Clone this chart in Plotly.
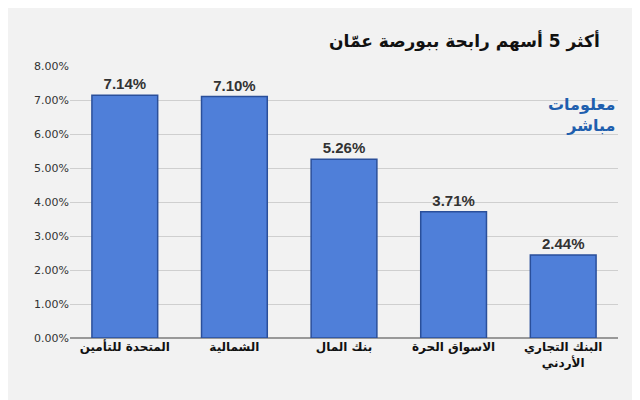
import plotly.graph_objects as go

categories = ["المتحدة للتأمين", "الشمالية", "بنك المال", "الاسواق الحرة", "البنك التجاري<br>الأردني"]
values = [7.14, 7.10, 5.26, 3.71, 2.44]
labels = ["7.14%", "7.10%", "5.26%", "3.71%", "2.44%"]

fig = go.Figure()
fig.add_trace(go.Bar(
    x=categories, y=values, width=0.6,
    marker=dict(color="#4f7fd9", line=dict(color="#2a4f9a", width=1.5)),
    text=labels, textposition="outside",
    textfont=dict(family="Arial", size=15, color="#333", weight="bold"),
    cliponaxis=False,
))
fig.update_layout(
    width=640, height=400,
    margin=dict(l=62, r=30, t=58, b=70),
    paper_bgcolor="#f2f2f2", plot_bgcolor="rgba(0,0,0,0)",
    showlegend=False,
    font=dict(family="DejaVu Sans", size=12, color="#222"),
    bargap=0.4,
    xaxis=dict(showline=False, tickfont=dict(size=12, color="#111", weight="bold")),
    yaxis=dict(range=[0, 8], dtick=1, ticksuffix=".00%", showgrid=True,
               gridcolor="#cfcfcf", zeroline=True, zerolinecolor="#999",
               tickfont=dict(size=11, color="#333")),
    annotations=[
        dict(text="أكثر 5 أسهم رابحة ببورصة عمّان", xref="paper", yref="paper",
             x=0.97, y=1.14, xanchor="right", showarrow=False,
             font=dict(size=17, color="#111", family="DejaVu Sans", weight="bold")),
        dict(text="معلومات<br>مباشر", xref="paper", yref="paper", x=1.0, y=0.9,
             xanchor="right", showarrow=False, align="right",
             font=dict(size=16, color="#1f5fae", family="DejaVu Sans", weight="bold")),
    ],
)
fig.write_html("out.html")
